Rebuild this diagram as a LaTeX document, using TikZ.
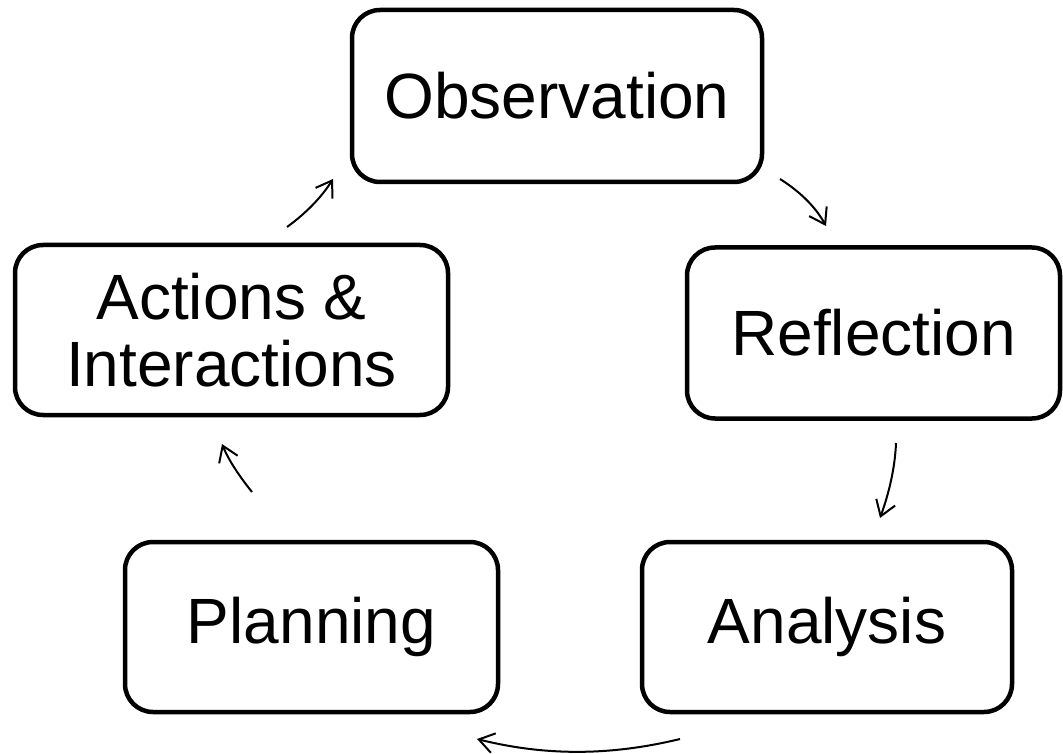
\documentclass[tikz,border=0pt]{standalone}
\usepackage{fontspec}
\setmainfont{Liberation Sans}
\usetikzlibrary{arrows.meta}
\begin{document}
\begin{tikzpicture}[x=1pt,y=-1pt,
  stagebox/.style={draw=black,line width=4.5pt,rounded corners=28pt,fill=white,
    inner sep=0pt,align=center,font=\fontsize{64pt}{67pt}\selectfont},
  flow/.style={draw=black,line width=2pt,-{Straight Barb[length=15pt,width=20pt,line width=2pt]}}]
\useasboundingbox (0,0) rectangle (1063,754);
\node[stagebox,minimum width=410pt,minimum height=172pt] (obs) at (557,96) {Observation};
\node[stagebox,minimum width=433pt,minimum height=170pt] (act) at (231.5,330) {Actions \&\\Interactions};
\node[stagebox,minimum width=373pt,minimum height=171pt] (ref) at (873.5,333) {Reflection};
\node[stagebox,minimum width=373pt,minimum height=170pt] (pla) at (311.5,627) {Planning};
\node[stagebox,minimum width=370pt,minimum height=170pt] (ana) at (827,627) {Analysis};
\coordinate (o1) at (780,179);
\coordinate (r0) at (826,226);
\coordinate (r1) at (896,443);
\coordinate (a0) at (880,518);
\coordinate (a1) at (680,739);
\coordinate (p0) at (477,739);
\coordinate (p1) at (252,492);
\coordinate (c0) at (222,444);
\coordinate (c1) at (287,227);
\coordinate (b0) at (333,179);
\draw[flow] (o1) .. controls (799,191) and (815,206) .. (r0);
\draw[flow] (r1) .. controls (895,468) and (889,493) .. (a0);
\draw[flow] (a1) .. controls (610,756) and (545,756) .. (p0);
\draw[flow] (p1) .. controls (240,477) and (229,461) .. (c0);
\draw[flow] (c1) .. controls (305,214) and (321,198) .. (b0);
\end{tikzpicture}
\end{document}
